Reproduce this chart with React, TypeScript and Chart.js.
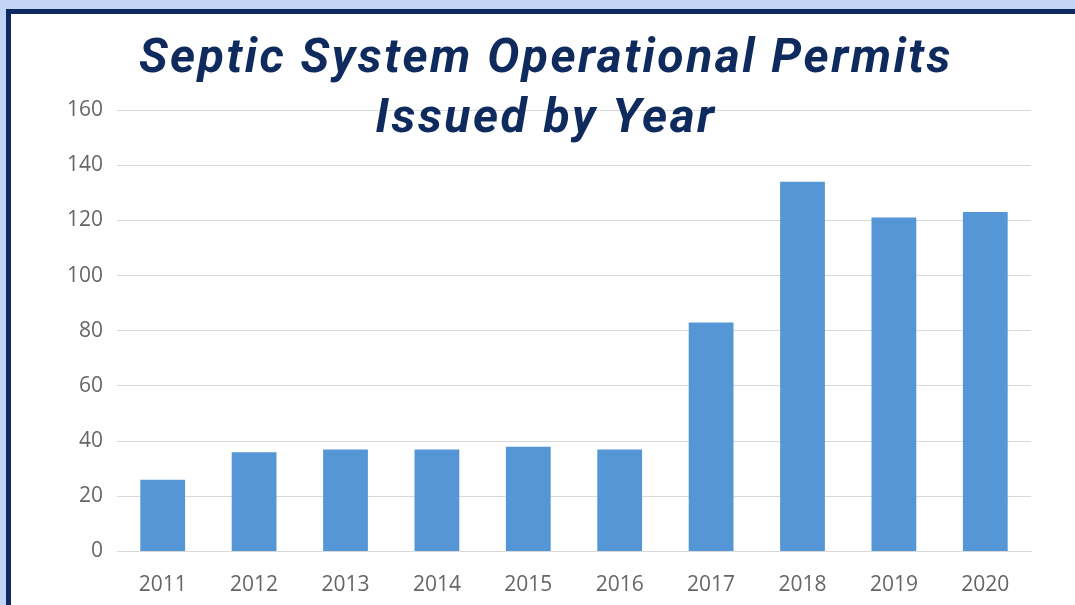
import React, { useEffect, useRef } from "react";
import { Chart, registerables } from "chart.js";

Chart.register(...registerables);

const years: string[] = ["2011", "2012", "2013", "2014", "2015", "2016", "2017", "2018", "2019", "2020"];
const permits: number[] = [26, 36, 37, 37, 38, 37, 83, 134, 121, 123];
const yMin = 0;
const yMax = 160;
const yStep = 20;
const titleLines: string[] = ["Septic System Operational Permits", "Issued by Year"];

const W = 1075;
const H = 605;

export default function App() {
  const canvasRef = useRef<HTMLCanvasElement | null>(null);

  useEffect(() => {
    const canvas = canvasRef.current;
    if (!canvas) return;
    const chart = new Chart(canvas, {
      type: "bar",
      data: {
        labels: years,
        datasets: [
          {
            label: "Permits",
            data: permits,
            backgroundColor: "#5596d6",
            borderWidth: 0,
            barPercentage: 0.49,
            categoryPercentage: 1,
          },
        ],
      },
      options: {
        responsive: false,
        animation: false,
        layout: { padding: { top: 110, right: 44, left: 0, bottom: 0 } },
        plugins: {
          legend: { display: false },
          title: { display: false },
          tooltip: { enabled: false },
        },
        scales: {
          x: {
            grid: { display: false },
            border: { display: true, color: "#d9d9d9", width: 1 },
            ticks: {
              color: "#666666",
              font: { family: "'Open Sans', sans-serif", size: 21 },
              padding: 13,
              maxRotation: 0,
            },
            afterFit: (s: any) => {
              s.height = 53.5;
            },
          },
          y: {
            min: yMin,
            max: yMax,
            grid: { color: "#d9d9d9", lineWidth: 1, drawTicks: false },
            border: { display: false },
            ticks: {
              stepSize: yStep,
              color: "#666666",
              font: { family: "'Open Sans', sans-serif", size: 21 },
              padding: 14,
            },
            afterFit: (s: any) => {
              s.width = 117;
            },
          },
        },
      },
    });
    return () => chart.destroy();
  }, []);

  return (
    <div
      style={{
        position: "fixed",
        left: 0,
        top: 0,
        width: W,
        height: H,
        background: "#c2d5f7",
        overflow: "hidden",
      }}
    >
      <div
        style={{
          position: "absolute",
          left: 6,
          top: 9,
          width: 1300,
          height: 900,
          border: "5px solid #0d2b60",
          background: "#ffffff",
          boxSizing: "border-box",
        }}
      />
      <canvas
        ref={canvasRef}
        width={W}
        height={H}
        style={{ position: "absolute", left: 0, top: 0, width: W, height: H }}
      />
      <div
        style={{
          position: "absolute",
          left: 0,
          top: 26,
          width: 1092,
          textAlign: "center",
          fontFamily: "Roboto, sans-serif",
          fontStyle: "italic",
          fontWeight: 700,
          fontSize: 48,
          letterSpacing: "2.5px",
          lineHeight: "60px",
          color: "#0f2b5e",
          whiteSpace: "nowrap",
        }}
      >
        {titleLines.map((t) => (
          <div key={t}>{t}</div>
        ))}
      </div>
    </div>
  );
}
